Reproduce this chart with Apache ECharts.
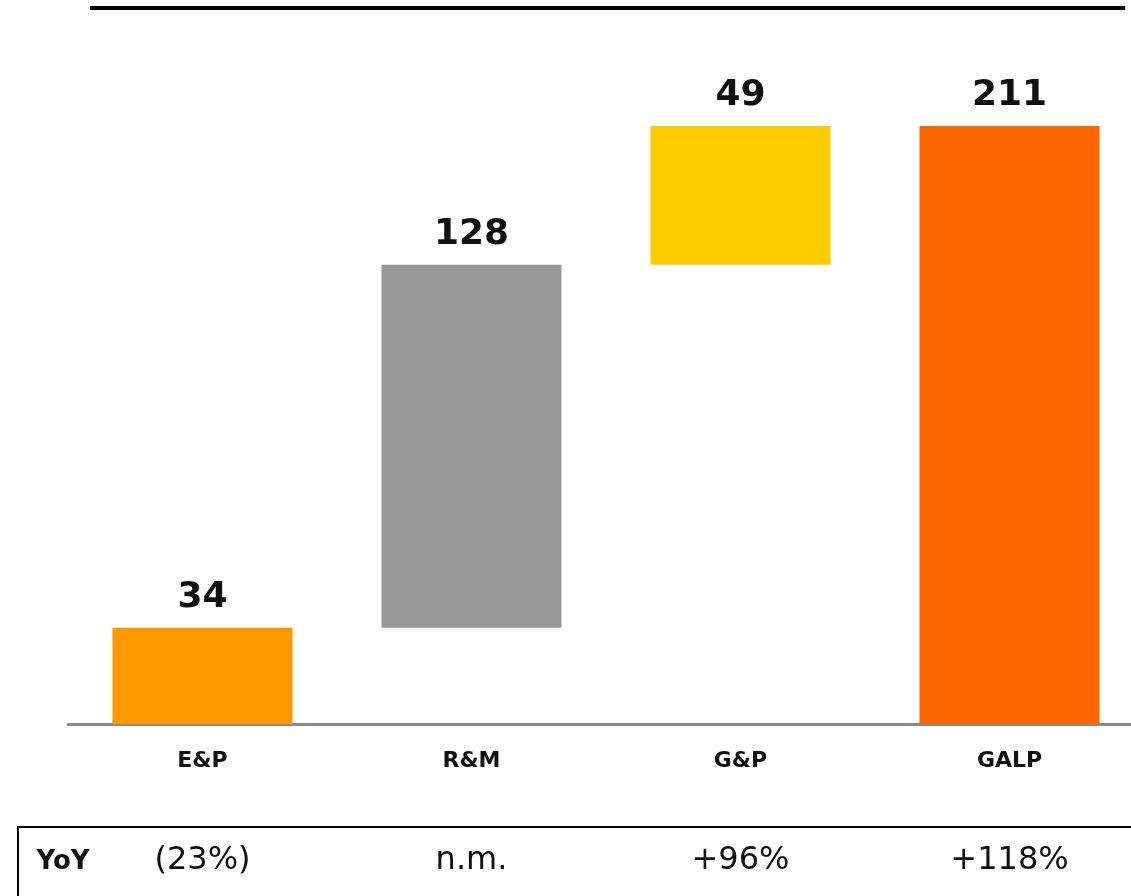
<!DOCTYPE html>
<html>
<head>
<meta charset="utf-8">
<script src="https://cdn.jsdelivr.net/npm/echarts@6/dist/echarts.min.js"></script>
<style>
html,body{margin:0;padding:0;background:#fff;}
#main{width:1131px;height:896px;}
</style>
</head>
<body>
<div id="main"></div>
<script>
const categories = ['E&P', 'R&M', 'G&P', 'GALP'];
const values = [34, 128, 49, 211];
const isTotal = [false, false, false, true];
const yoy = ['(23%)', 'n.m.', '+96%', '+118%'];
const colors = ['#FF9900', '#979797', '#FFCC00', '#FF6600'];
const rowLabel = 'YoY';

const base = [];
let run = 0;
for (let i = 0; i < values.length; i++) {
  if (isTotal[i]) { base.push(0); }
  else { base.push(run); run += values[i]; }
}

const FONT = '"DejaVu Sans", Verdana, sans-serif';
const chart = echarts.init(document.getElementById('main'));
chart.setOption({
  animation: false,
  backgroundColor: '#fff',
  grid: { left: 68, width: 1076, top: 126, bottom: 172, outerBoundsMode: 'none', containLabel: false },
  xAxis: [{
    type: 'category',
    data: categories,
    axisLine: { lineStyle: { color: '#8a8a8a', width: 3 } },
    axisTick: { show: false },
    axisLabel: { fontFamily: FONT, fontWeight: 'bold', fontSize: 22, color: '#111', margin: 26 }
  }, {
    type: 'category',
    data: yoy,
    position: 'bottom',
    axisLine: { show: false },
    axisTick: { show: false },
    axisLabel: { fontFamily: FONT, fontSize: 32, color: '#111', margin: 121 }
  }],
  yAxis: { type: 'value', min: 0, max: 211, show: false, splitLine: { show: false } },
  graphic: [
    { type: 'line', shape: { x1: 90, y1: 8, x2: 1125, y2: 8 }, style: { stroke: '#000', lineWidth: 4 } },
    { type: 'rect', shape: { x: 18, y: 827, width: 1140, height: 100 }, style: { fill: 'none', stroke: '#000', lineWidth: 2 } },
    { type: 'text', x: 63, y: 862, style: { text: rowLabel, fontFamily: FONT, fontWeight: 'bold', fontSize: 26, fill: '#111', textAlign: 'center', textVerticalAlign: 'middle' } }
  ],
  series: [{
    type: 'bar', stack: 'w', data: base, barWidth: 180,
    itemStyle: { color: 'transparent' }, silent: true
  }, {
    type: 'bar', stack: 'w', barWidth: 180,
    data: values.map((v, i) => ({ value: v, itemStyle: { color: colors[i] } })),
    label: { show: true, position: 'top', distance: 12, fontFamily: FONT, fontWeight: 'bold', fontSize: 36, color: '#111' }
  }]
});
</script>
</body>
</html>
